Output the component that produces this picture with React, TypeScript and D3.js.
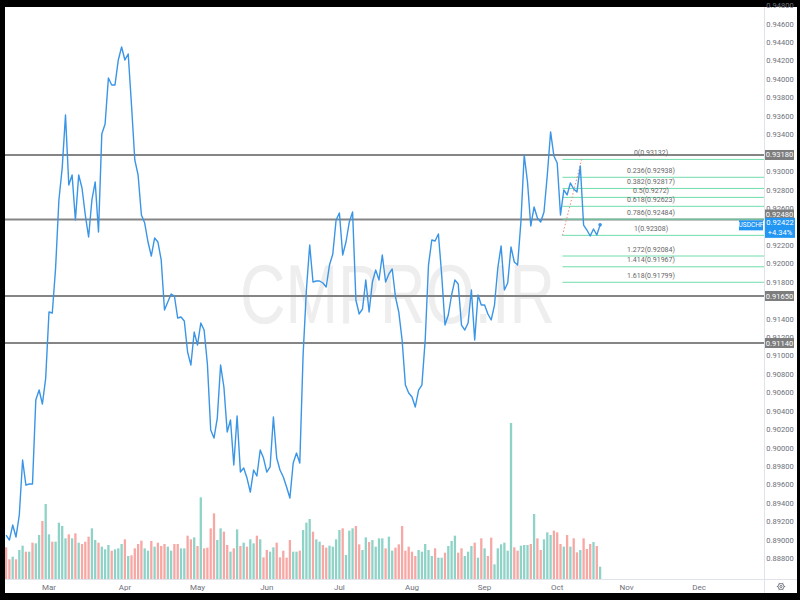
import * as d3 from "d3";

// USDCHF daily closes, bar index 0 = 1 Mar (weekdays only), first bar is index -13
const FIRST_INDEX = -13;
const closes = [
  0.89057, 0.89002, 0.89165, 0.89035, 0.89274, 0.89871, 0.89599, 0.8961, 0.8961, 0.90522,
  0.9063, 0.90478, 0.9076, 0.91476, 0.91466, 0.91954, 0.92692, 0.93039, 0.93614, 0.92854,
  0.92963, 0.92475, 0.92963, 0.92822, 0.92529, 0.9229, 0.92692, 0.92887, 0.92344, 0.93408,
  0.93516, 0.94016, 0.9394, 0.9394, 0.94211, 0.94352, 0.94211, 0.94276, 0.93723, 0.93126,
  0.92963, 0.92529, 0.92442, 0.92236, 0.92084, 0.92279, 0.92236, 0.92041, 0.91498, 0.91585,
  0.91672, 0.9165, 0.91411, 0.91422, 0.91379, 0.91042, 0.90901, 0.91259, 0.91118, 0.91357,
  0.91281, 0.90912, 0.90196, 0.90109, 0.90326, 0.90901, 0.90663, 0.90174, 0.90305, 0.89816,
  0.90348, 0.8974, 0.89784, 0.89675, 0.89523, 0.89762, 0.89697, 0.89979, 0.89892, 0.8974,
  0.89795, 0.90337, 0.89892, 0.89762, 0.89686, 0.89578, 0.89458, 0.89838, 0.89946, 0.89838,
  0.9101, 0.91715, 0.92203, 0.91802, 0.91813, 0.91813, 0.91791, 0.91748, 0.91986, 0.92106,
  0.92475, 0.92551, 0.92095, 0.92236, 0.92453, 0.92562, 0.91607, 0.91455, 0.91509, 0.91824,
  0.91476, 0.91802, 0.91932, 0.91824, 0.92095, 0.91802, 0.91889, 0.91943, 0.91639, 0.91476,
  0.91173, 0.90684, 0.90598, 0.90554, 0.90446, 0.9063, 0.90684, 0.91173, 0.91986, 0.92258,
  0.92247, 0.92323, 0.91878, 0.91335, 0.91444, 0.91661, 0.91824, 0.9178, 0.91335, 0.91281,
  0.91357, 0.91715, 0.91173, 0.91661, 0.91552, 0.91552, 0.91455, 0.9139, 0.91552, 0.91954,
  0.92193, 0.91715, 0.91791, 0.92182, 0.92019, 0.91986, 0.92453, 0.9318, 0.92887, 0.9241,
  0.92616, 0.92496, 0.92453, 0.92562, 0.92963, 0.9343, 0.93169, 0.93093, 0.92529, 0.928,
  0.92746, 0.92876, 0.92811, 0.92779, 0.93061, 0.9242, 0.92366, 0.92301, 0.92377, 0.92312,
  0.92422,
];

const volumes = [
  95, 59, 67, 59, 87, 100, 82, 82, 109, 107,
  132, 174, 225, 134, 112, 112, 169, 159, 122, 134,
  122, 137, 109, 105, 112, 127, 152, 117, 109, 97,
  89, 102, 85, 89, 92, 105, 119, 69, 71, 92,
  105, 115, 92, 85, 114, 97, 109, 99, 105, 97,
  85, 105, 105, 92, 92, 130, 119, 125, 99, 245,
  92, 94, 152, 197, 117, 152, 142, 102, 82, 92,
  149, 99, 109, 97, 119, 107, 130, 119, 65, 87,
  82, 95, 109,
  65, 85, 64, 117, 82, 82, 85, 147, 169, 180,
  142, 119, 112, 102, 94, 100, 97, 119, 147, 152,
  72, 145, 152, 159, 104, 87, 125, 111, 117, 97,
  122, 122, 92, 127, 85, 94, 104, 159, 85, 97,
  82, 69, 87, 82, 105, 87, 69, 92, 64, 64,
  79, 99, 114, 130, 79, 92, 69, 82, 99, 109,
  64, 122, 92, 69, 124, 44, 92, 104, 109, 85,
  468, 95, 85, 100, 102, 102, 105, 195, 122, 87,
  119, 140, 132, 145, 140, 105, 97, 132, 97, 122,
  80, 87, 122, 90, 105, 111, 99, 37,
];

// u = up bar (teal), d = down bar (salmon)
const volumeDirs = (
  "dduduududu" + "uduuduuuud" + "ududdduudu" + "uuduuududd" + "dduududddu" +
  "udduuddudu" + "dddduuddud" + "ududuududd" + "uud" +
  "dddduuduuu" + "duudduuuud" + "uuudduuduu" + "uuduuddddd" + "dduuuuuduu" +
  "duuudduuud" + "ududduuuuu" + "udduuududd" + "uuudddudud" + "dudddudu"
).split("");

const monthLabels = ["Mar", "Apr", "May", "Jun", "Jul", "Aug", "Sep", "Oct", "Nov", "Dec"];
const monthStartIndex = [0, 23, 45, 66, 88, 110, 132, 154, 175, 197];

const levelPrices = [0.9318, 0.9248, 0.9165, 0.9114];
const levelLabelNudge = [0, -5, 0, 0];

const fibRatios = ["0", "0.236", "0.382", "0.5", "0.618", "0.786", "1", "1.272", "1.414", "1.618"];
const fibValues = [0.93132, 0.92938, 0.92817, 0.9272, 0.92623, 0.92484, 0.92308, 0.92084, 0.91967, 0.91799];
const fibStartIndex = 155.6;
const fibEndIndex = 161.4;

const SYMBOL = "USDCHF";
const LAST_PRICE = 0.92422;
const CHANGE = "+4.34%";

const W = 800;
const H = 600;
const PANE = { left: 5, right: 764, top: 7, bottom: 579 };
const FONT = "Roboto, 'DejaVu Sans', sans-serif";

export default function App() {
  const x = d3.scaleLinear().domain([0, 197]).range([49, 49 + 197 * 3.3]);
  const y = d3.scaleLinear().domain([0.888, 0.946]).range([558.7, 24.1]);
  const v = d3.scaleLinear().domain([0, 300]).range([PANE.bottom, PANE.bottom - 100]);

  const pts = closes.map((c, i) => ({ i: i + FIRST_INDEX, c }));
  const line = d3
    .line<{ i: number; c: number }>()
    .x((d) => x(d.i))
    .y((d) => y(d.c));

  // axis labels hidden behind the price boxes are skipped, like the terminal does
  const boxCenters = [
    ...levelPrices.map((p, j) => y(p) + levelLabelNudge[j]),
    y(LAST_PRICE) + 3,
  ];
  const ticks = d3
    .range(0, 31)
    .map((k) => 0.888 + k * 0.002)
    .filter((t) => boxCenters.every((c) => Math.abs(y(t) - c) > 5.5));
  const last = pts[pts.length - 1];

  return (
    <svg
      width={W}
      height={H}
      style={{ position: "absolute", left: 0, top: 0, background: "#000" }}
      fontFamily={FONT}
    >
      <defs>
        <clipPath id="pane">
          <rect x={PANE.left} y={PANE.top} width={PANE.right - PANE.left} height={PANE.bottom - PANE.top} />
        </clipPath>
      </defs>
      <rect x={5} y={7} width={792} height={586} fill="#fff" />

      {/* watermark */}
      <text
        x={397.5}
        y={323}
        fontSize={84}
        fontFamily="'Liberation Sans', Arial, sans-serif"
        fill="#eeeeee"
        textAnchor="middle"
        textLength={315}
        lengthAdjust="spacingAndGlyphs"
      >
        CMPRO.IR
      </text>

      <g clipPath="url(#pane)">
        {/* volume */}
        {volumes.map((vol, i) => (
          <rect
            key={i}
            x={x(i + FIRST_INDEX) - 1.15}
            y={v(vol)}
            width={2.3}
            height={PANE.bottom - v(vol)}
            fill={volumeDirs[i] === "u" ? "#8fd3c8" : "#f6a8a5"}
          />
        ))}

        {/* horizontal levels */}
        {levelPrices.map((p) => (
          <line key={p} x1={PANE.left} x2={PANE.right} y1={y(p)} y2={y(p)} stroke="#858585" strokeWidth={1.8} />
        ))}

        {/* fib retracement */}
        {fibValues.map((fv, j) => (
          <g key={j}>
            <line x1={x(fibStartIndex)} x2={PANE.right} y1={y(fv)} y2={y(fv)} stroke="#6fdcab" strokeWidth={1} />
            <text x={651} y={y(fv) - 4.5} fontSize={7} fill="#666" textAnchor="middle">
              {`${fibRatios[j]}(${fv})`}
            </text>
          </g>
        ))}
        <line
          x1={x(fibStartIndex)}
          y1={y(fibValues[6])}
          x2={x(fibEndIndex)}
          y2={y(fibValues[0])}
          stroke="#f08a80"
          strokeWidth={1}
          strokeDasharray="1.5,2"
        />

        {/* price line */}
        <path d={line(pts) ?? ""} fill="none" stroke="#3a95e6" strokeWidth={1.4} strokeLinejoin="round" />
        <circle cx={x(last.i)} cy={y(last.c)} r={1.8} fill="#3a95e6" />
      </g>

      {/* pane borders */}
      <line x1={PANE.right + 0.5} x2={PANE.right + 0.5} y1={PANE.top} y2={593} stroke="#e0e3eb" />
      <line x1={PANE.left} x2={797} y1={PANE.bottom + 0.5} y2={PANE.bottom + 0.5} stroke="#e0e3eb" />

      {/* price axis */}
      {ticks.map((t) => (
        <text key={t} x={780} y={y(t)} fontSize={7.5} fill="#6d707a" textAnchor="middle" dominantBaseline="central">
          {t.toFixed(5)}
        </text>
      ))}
      {levelPrices.map((p, j) => (
        <g key={p}>
          <rect x={765} y={y(p) - 5 + levelLabelNudge[j]} width={29} height={10} fill="#7d7d7d" />
          <text
            x={779.5}
            y={y(p) + levelLabelNudge[j]}
            fontSize={7.5}
            fill="#fff"
            textAnchor="middle"
            dominantBaseline="central"
          >
            {p.toFixed(5)}
          </text>
        </g>
      ))}
      <rect x={765} y={y(LAST_PRICE) - 7} width={30} height={20} fill="#2196f3" />
      <text x={780} y={y(LAST_PRICE) - 2} fontSize={7.5} fill="#fff" textAnchor="middle" dominantBaseline="central">
        {LAST_PRICE.toFixed(5)}
      </text>
      <text x={780} y={y(LAST_PRICE) + 7.5} fontSize={7.5} fill="#fff" textAnchor="middle" dominantBaseline="central">
        {CHANGE}
      </text>
      <rect x={739} y={y(LAST_PRICE) - 4.5} width={24} height={10} fill="#2196f3" />
      <text x={751} y={y(LAST_PRICE) + 0.5} fontSize={6.5} fill="#fff" textAnchor="middle" dominantBaseline="central">
        {SYMBOL}
      </text>

      {/* time axis */}
      {monthLabels.map((m, j) => (
        <text key={m} x={x(monthStartIndex[j])} y={590} fontSize={8} fill="#6d707a" textAnchor="middle">
          {m}
        </text>
      ))}

      {/* settings gear */}
      <g transform="translate(781,586.5)" stroke="#6d707a" fill="none" strokeWidth={0.9}>
        <circle r={3} />
        <circle r={1.1} />
        {d3.range(6).map((k) => {
          const a = (k * Math.PI) / 3;
          return <line key={k} x1={Math.cos(a) * 3} y1={Math.sin(a) * 3} x2={Math.cos(a) * 4.2} y2={Math.sin(a) * 4.2} />;
        })}
      </g>
    </svg>
  );
}
